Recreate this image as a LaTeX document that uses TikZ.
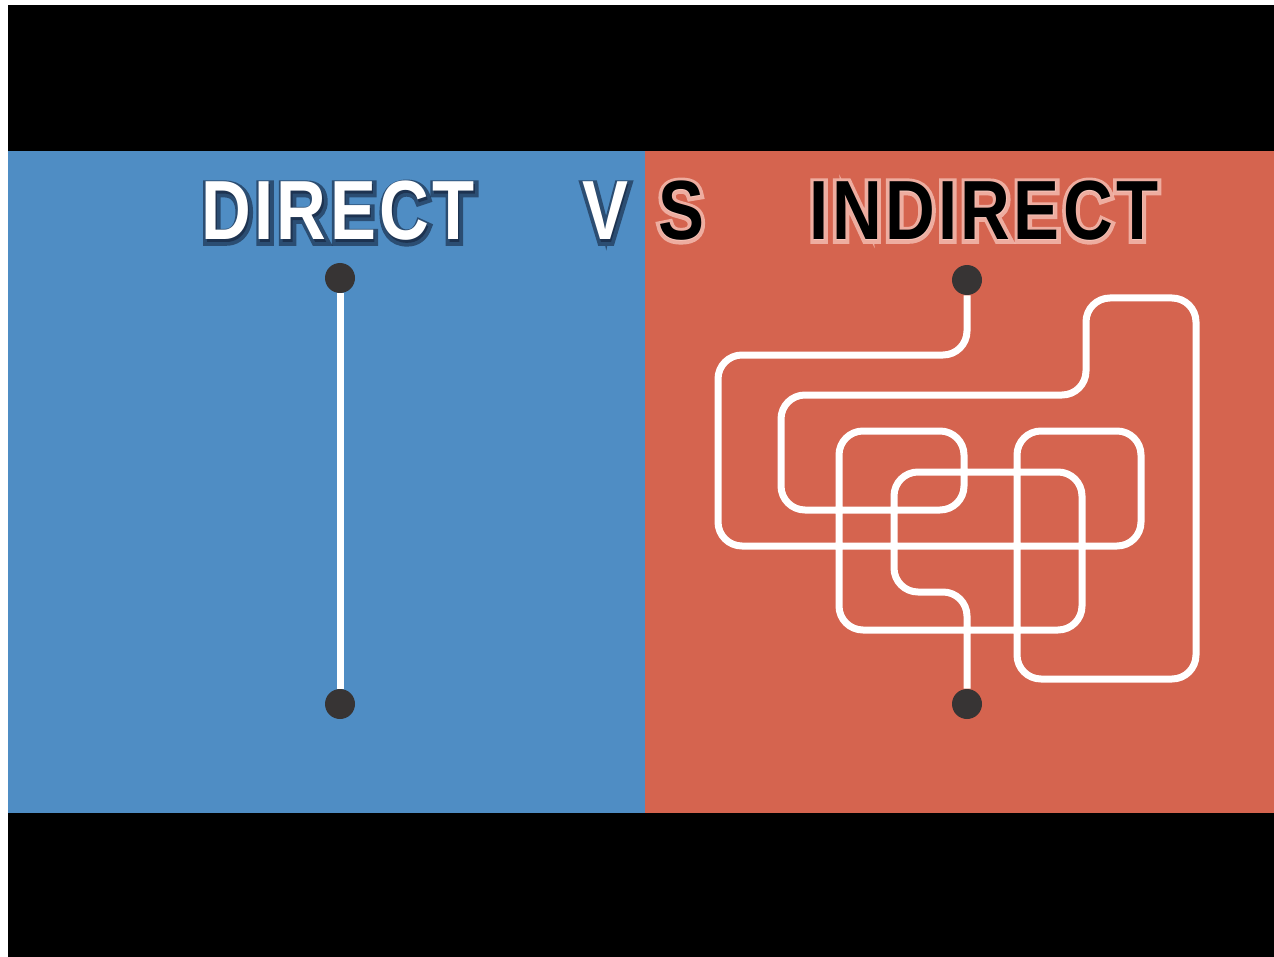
\documentclass[tikz,border=0pt]{standalone}
\usepackage{fontspec}
\usepackage{xcolor}
\usepackage{tikz}
\usetikzlibrary{positioning, calc}

\newfontfamily\headfont[FakeStretch=0.82, LetterSpace=4]{Liberation Sans}
\newfontfamily\haloheadfont[FakeStretch=0.82, LetterSpace=4, FakeBold=9]{Liberation Sans}

\definecolor{leftblue}{RGB}{79,141,196}
\definecolor{rightred}{RGB}{213,100,79}
\definecolor{pingray}{RGB}{55,52,52}
\definecolor{glowpink}{RGB}{250,205,195}
\definecolor{shadenavy}{RGB}{20,35,60}

\tikzset{
  pin/.style={circle, fill=pingray, minimum size=15pt, inner sep=0pt},
  wire/.style={draw=white, line width=3.5pt},
  maze/.style={wire, rounded corners=12pt},
  title/.style={font=\headfont\bfseries\fontsize{42}{42}\selectfont, anchor=base, inner sep=0pt},
  halo/.style={font=\haloheadfont\bfseries\fontsize{42}{42}\selectfont, anchor=base, inner sep=0pt},
}

\begin{document}
\begin{tikzpicture}[x=0.5pt, y=-0.5pt]
% Frame and the two panels
\fill[white] (0,0) rectangle (1274,957);
\fill[black] (8,5) rectangle (1274,957);
\fill[leftblue] (8,151) rectangle (645,813);
\fill[rightred] (645,151) rectangle (1274,813);

% Headings: white with a dark rim on the left
\node[halo, text=shadenavy, opacity=0.6] (directrim) at (339,242) {DIRECT};
\node[title, text=white] (direct) at (338,240) {DIRECT};
\node[halo, text=shadenavy, opacity=0.6] (vrim) at (606,242) {V};
\node[title, text=white] (v) at (605,240) {V};

% Headings: black with a light glow on the right
\node[halo, text=glowpink, opacity=0.7] (sglow) at (681,240) {S};
\node[title, text=black] (s) at (681,240) {S};
\node[halo, text=glowpink, opacity=0.7] (indirectglow) at (984,240) {INDIRECT};
\node[title, text=black] (indirect) at (984,240) {INDIRECT};

% Direct: one straight line
\node[pin] (dtop) at (340,278) {};
\node[pin] (dbot) at (340,704) {};
\draw[wire] (dtop) -- (dbot);

% Indirect: one long winding line
\node[pin] (itop) at (967,280) {};
\node[pin] (ibot) at (967,704) {};
\draw[maze] (itop) -- (967,355) -- (718,355) -- (718,546) -- (1141,546)
  -- (1141,431) -- (1017,431) -- (1017,679) -- (1196,679) -- (1196,298)
  -- (1086,298) -- (1086,395) -- (781,395) -- (781,510) -- (964,510)
  -- (964,431) -- (839,431) -- (839,630) -- (1082,630) -- (1082,472)
  -- (894,472) -- (894,592) -- (967,592) -- (ibot);
\end{tikzpicture}
\end{document}
